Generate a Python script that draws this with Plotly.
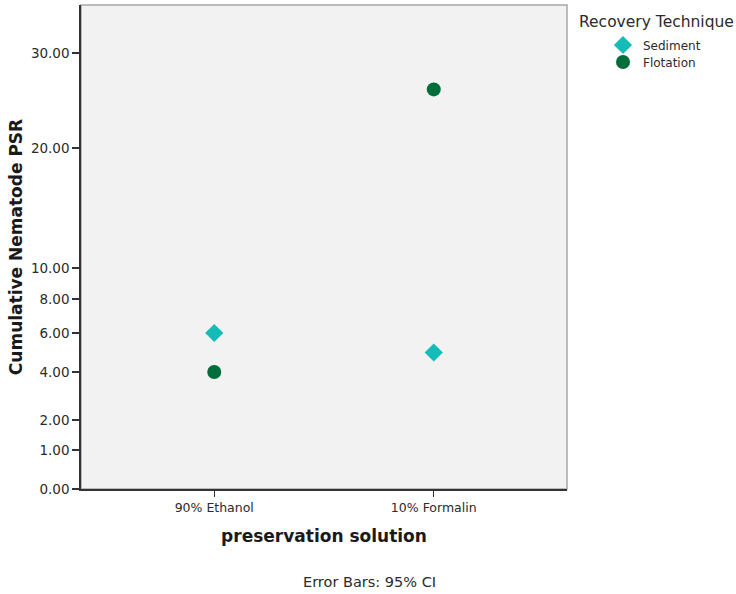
import numpy as np
import plotly.graph_objects as go

# ---- data ----
categories = ["90% Ethanol", "10% Formalin"]
sediment = [6.0, 5.0]
flotation = [4.0, 26.2]

# ---- non-linear y scale (SPSS-style), tick values and their relative axis positions ----
scale_values = [0, 1, 2, 4, 6, 8, 10, 20, 30]
scale_pos = [0, 39, 69, 117, 156, 190, 221, 340.7, 435.7]
axis_top = 484
tick_labels = [f"{v:.2f}" for v in scale_values]


def yscale(v):
    return np.interp(v, scale_values, scale_pos)


FONT = "DejaVu Sans"
TXT = "#2b2b2b"
W, H = 736, 594
ML, MR, MT, MB = 81, 169, 5, 105
PW, PH = W - ML - MR, H - MT - MB


def px_x(x):
    return (x - ML) / PW


def px_y(y):
    return (H - MB - y) / PH


fig = go.Figure()
fig.add_trace(go.Scatter(
    x=categories, y=yscale(sediment), mode="markers", name="Sediment", legend="legend",
    marker=dict(symbol="diamond", size=14, color="#14bcb8"),
))
fig.add_trace(go.Scatter(
    x=categories, y=yscale(flotation), mode="markers", name="Flotation", legend="legend2",
    marker=dict(symbol="circle", size=14, color="#006d3a"),
))

leg_common = dict(
    xref="paper", yref="paper", xanchor="left", yanchor="middle",
    font=dict(size=12, family=FONT, color=TXT),
    bgcolor="rgba(0,0,0,0)", itemsizing="trace", borderwidth=0,
)

fig.update_layout(
    width=W, height=H,
    margin=dict(l=ML, r=MR, t=MT, b=MB),
    paper_bgcolor="white",
    plot_bgcolor="#f2f2f2",
    font=dict(family=FONT, color=TXT),
    showlegend=True,
    legend=dict(x=px_x(603), y=px_y(45), **leg_common),
    legend2=dict(x=px_x(603), y=px_y(62), **leg_common),
    xaxis=dict(
        type="category", range=[-0.607, 1.607],
        showgrid=False, zeroline=False,
        showline=True, linecolor="#333333", linewidth=1.5,
        ticks="outside", ticklen=6, tickcolor="#333333", tickwidth=1,
        tickfont=dict(size=12.5, family=FONT, color=TXT),
        title=dict(text="<b>preservation solution</b>", font=dict(size=17, family=FONT, color="#1a1a1a"), standoff=16),
    ),
    yaxis=dict(
        range=[0, axis_top],
        tickmode="array", tickvals=[float(yscale(v)) for v in scale_values], ticktext=tick_labels,
        showgrid=False, zeroline=False,
        showline=True, linecolor="#333333", linewidth=1.5,
        ticks="outside", ticklen=7, tickcolor="#333333", tickwidth=1.5,
        tickfont=dict(size=13.5, family=FONT, color=TXT),
        title=dict(text="<b>Cumulative Nematode PSR</b>", font=dict(size=17, family=FONT, color="#1a1a1a"), standoff=4),
    ),
)

# light frame on top/right
fig.add_shape(type="rect", xref="paper", yref="paper", x0=0, x1=1, y0=0, y1=1,
              line=dict(color="#a8a8a8", width=1.5), fillcolor="rgba(0,0,0,0)", layer="below")

# legend title
fig.add_annotation(text="Recovery Technique", xref="paper", yref="paper",
                   x=px_x(577), y=px_y(22), xanchor="left", yanchor="middle",
                   showarrow=False, font=dict(size=15.5, family=FONT, color=TXT))

# footnote
fig.add_annotation(text="Error Bars: 95% CI", xref="paper", yref="paper",
                   x=px_x(369), y=px_y(582), xanchor="center", yanchor="middle",
                   showarrow=False, font=dict(size=14.5, family=FONT, color=TXT))

fig.write_html("out.html")
